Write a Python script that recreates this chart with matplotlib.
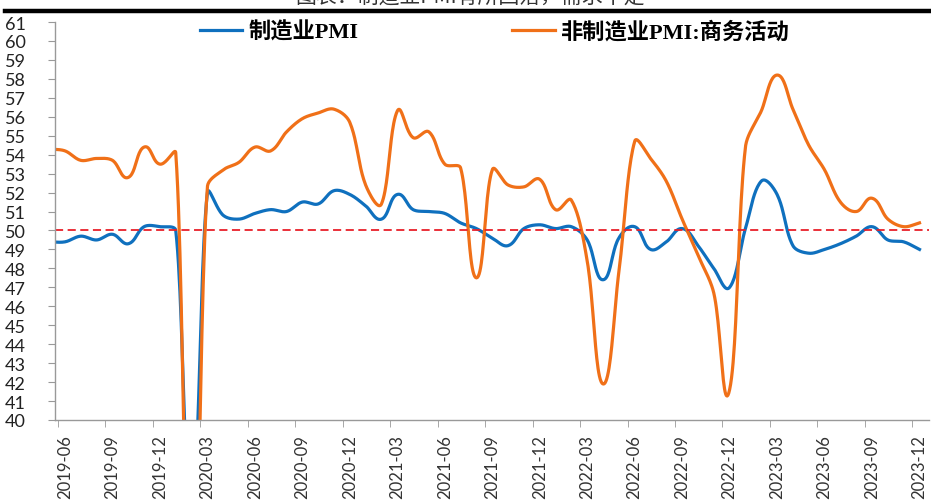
import numpy as np
import matplotlib
matplotlib.use("Agg")
import matplotlib.pyplot as plt

plt.rcParams['font.family'] = ['Lato', 'Noto Sans CJK SC', 'DejaVu Sans']

# monthly data, 2019-05 .. 2023-12 (2019-05 only shows as the clipped start of the lines)
months = ["2019-05", "2019-06", "2019-07", "2019-08", "2019-09", "2019-10", "2019-11", "2019-12",
          "2020-01", "2020-02", "2020-03", "2020-04", "2020-05", "2020-06", "2020-07",
          "2020-08", "2020-09", "2020-10", "2020-11", "2020-12", "2021-01", "2021-02",
          "2021-03", "2021-04", "2021-05", "2021-06", "2021-07", "2021-08", "2021-09",
          "2021-10", "2021-11", "2021-12", "2022-01", "2022-02", "2022-03", "2022-04",
          "2022-05", "2022-06", "2022-07", "2022-08", "2022-09", "2022-10", "2022-11",
          "2022-12", "2023-01", "2023-02", "2023-03", "2023-04", "2023-05", "2023-06",
          "2023-07", "2023-08", "2023-09", "2023-10", "2023-11", "2023-12"]

mfg_pmi = [49.4, 49.4, 49.7, 49.5, 49.8, 49.3, 50.2, 50.2, 50.0, 35.7, 52.0, 50.8, 50.6, 50.9,
           51.1, 51.0, 51.5, 51.4, 52.1, 51.9, 51.3, 50.6, 51.9, 51.1, 51.0, 50.9, 50.4,
           50.1, 49.6, 49.2, 50.1, 50.3, 50.1, 50.2, 49.5, 47.4, 49.6, 50.2, 49.0, 49.4,
           50.1, 49.2, 48.0, 47.0, 50.1, 52.6, 51.9, 49.2, 48.8, 49.0, 49.3, 49.7, 50.2,
           49.5, 49.4, 49.0]

nonmfg_pmi = [54.3, 54.2, 53.7, 53.8, 53.7, 52.8, 54.4, 53.5, 54.1, 29.6, 52.3, 53.2, 53.6, 54.4,
              54.2, 55.2, 55.9, 56.2, 56.4, 55.7, 52.4, 51.4, 56.3, 54.9, 55.2, 53.5, 53.3,
              47.5, 53.2, 52.4, 52.3, 52.7, 51.1, 51.6, 48.4, 41.9, 47.8, 54.7, 53.8, 52.6,
              50.6, 48.7, 46.7, 41.6, 54.4, 56.3, 58.2, 56.4, 54.5, 53.2, 51.5, 51.0, 51.7,
              50.6, 50.2, 50.4]

x = np.arange(len(months)) - 1  # 2019-06 -> 0


def smooth(x, y, sx=15.82, sy=18.95, n=24):
    # Excel-style smoothed line: cubic Bezier in pixel space,
    # control arms = chord/3 along the neighbour direction, kept inside the segment's x range
    P = np.column_stack([np.asarray(x, float) * sx, np.asarray(y, float) * sy])
    N = len(P)
    T = np.zeros_like(P)
    for i in range(N):
        d = P[min(i + 1, N - 1)] - P[max(i - 1, 0)]
        T[i] = d / np.hypot(*d)
    out = []
    t = np.linspace(0, 1, n)[:, None]
    for i in range(N - 1):
        dx = P[i + 1, 0] - P[i, 0]
        L = np.hypot(*(P[i + 1] - P[i]))
        a = T[i] * L / 3
        b = T[i + 1] * L / 3
        if a[0] > dx * 0.5:
            a = a * (dx * 0.5 / a[0])
        if b[0] > dx * 0.5:
            b = b * (dx * 0.5 / b[0])
        c1 = P[i] + a
        c2 = P[i + 1] - b
        out.append((1 - t) ** 3 * P[i] + 3 * (1 - t) ** 2 * t * c1 + 3 * (1 - t) * t ** 2 * c2 + t ** 3 * P[i + 1])
    out = np.vstack(out)
    return out[:, 0] / sx, out[:, 1] / sy


fig = plt.figure(figsize=(9.31, 5.02), dpi=100)
ax = fig.add_axes([55 / 931, 81 / 502, (929 - 55) / 931, (421 - 23) / 502])

xb, yb = smooth(x, mfg_pmi)
xo, yo = smooth(x, nonmfg_pmi)
ax.plot(xb, yb, color='#0F70BE', lw=2.3, label='制造业PMI')
ax.plot(xo, yo, color='#F07018', lw=2.3, label='非制造业PMI:商务活动')
ax.axhline(50, color='#E8202A', lw=1.3, ls=(0, (4.5, 2.5)))

ax.set_xlim(-0.63, 54.6)
ax.set_ylim(40, 61)
ax.set_yticks(range(40, 62))
ax.set_yticklabels([str(v) for v in range(40, 62)], fontsize=13, color='#222222')
lab_pos = x[1::3]
ax.set_xticks(lab_pos)
ax.set_xticklabels(months[1::3], rotation=90, fontsize=12, color='#333333')
ax.set_xticks(lab_pos - 0.45, minor=True)
ax.tick_params(axis='x', which='major', length=0, pad=10)
ax.tick_params(axis='x', which='minor', direction='out', length=5, color='#999999')
ax.tick_params(axis='y', direction='out', length=5, color='#999999', pad=16)

for s in ['top', 'right']:
    ax.spines[s].set_visible(False)
for s in ['left', 'bottom']:
    ax.spines[s].set_color('#999999')
    ax.spines[s].set_linewidth(1.0)

leg = ax.legend(loc='center', bbox_to_anchor=((495 - 55) / 874, 1 - 10 / 398), ncol=2, frameon=False,
                handlelength=1.9, columnspacing=6.9, handletextpad=0.3,
                prop={'family': ['Liberation Serif', 'Noto Sans CJK SC'], 'weight': 'bold', 'size': 16})

# title strip at the top, mostly cut off in the source image
fig.text(0.505, 1.005, '图表：制造业PMI有所回落，需求不足', ha='center', va='center',
         fontsize=15, color='#333333', family=['Noto Sans CJK SC'])
fig.add_artist(plt.Line2D([5 / 931, 1], [1 - 11.5 / 502, 1 - 11.5 / 502], color='black', lw=3.2))

fig.savefig('out.png', dpi=100)
